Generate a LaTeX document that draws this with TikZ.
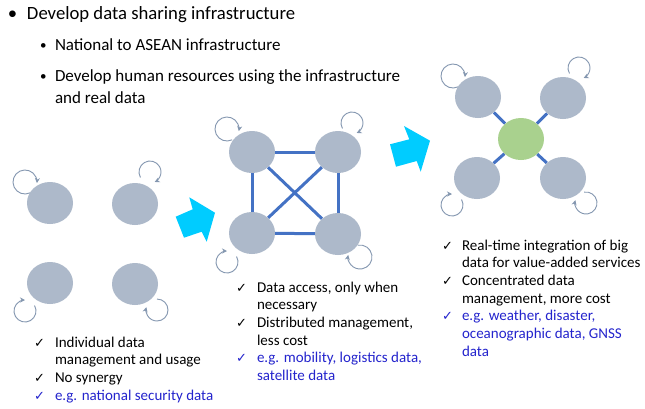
\documentclass[tikz,border=0pt]{standalone}
\usepackage{fontspec}
\setmainfont{Carlito}
\newfontfamily\symfont{DejaVu Sans}
\usetikzlibrary{shapes.geometric,arrows.meta,calc}
\definecolor{nodegray}{HTML}{ADB9CA}
\definecolor{loopc}{HTML}{8497B0}
\definecolor{edgeb}{HTML}{4472C4}
\definecolor{hubg}{HTML}{A9D18E}
\definecolor{cyanarr}{HTML}{00CCFF}
\definecolor{egblue}{RGB}{36,36,205}
\begin{document}
\begin{tikzpicture}[x=1pt,y=-1pt,
  site/.style={ellipse,fill=nodegray,minimum width=46pt,minimum height=42pt,inner sep=0pt},
  hub/.style={site,fill=hubg},
  link/.style={edgeb,line width=3pt},
  selfloop/.style={loopc,line width=0.9pt,-{Stealth[length=5pt,width=5pt]}},
  bigarrow/.style={fill=cyanarr,draw=none},
  txt/.style={anchor=base west,inner sep=0pt,outer sep=0pt},
  head/.style={txt,font=\fontsize{18.7}{22}\selectfont},
  sub/.style={txt,font=\fontsize{17}{22}\selectfont},
  subdot/.style={txt,font=\fontsize{13}{16}\selectfont},
  item/.style={txt,font=\fontsize{15}{18}\selectfont},
  tick/.style={txt,font=\symfont\fontsize{13}{15}\selectfont},
]
\useasboundingbox[fill=white] (0,0) rectangle (645,408);

% ---- heading text ----
\node[head] (b0) at (8,19) {•};
\node[head] (h0) at (27,19) {Develop data sharing infrastructure};
\node[subdot] (b1) at (40,49) {•};
\node[sub] (h1) at (55,50) {National to ASEAN infrastructure};
\node[subdot] (b2) at (40,80) {•};
\node[sub] (h2) at (55,81) {Develop human resources using the infrastructure};
\node[sub] (h3) at (55,103) {and real data};

% ---- left group ----
\node[site] (a1) at (50,203) {};
\node[site] (a2) at (135,204) {};
\node[site] (a3) at (50,283) {};
\node[site] (a4) at (135,284) {};
\draw[selfloop] ($(a1)+(-25,-21)+(65:12)$) arc[start angle=65,end angle=365,radius=12];
\draw[selfloop] ($(a2)+(15,-32)+(150:11)$) arc[start angle=150,end angle=425,radius=11];
\draw[selfloop] ($(a3)+(-25,28)+(-30:11)$) arc[start angle=-30,end angle=270,radius=11];
\draw[selfloop] ($(a4)+(22,26)+(-90:11)$) arc[start angle=-90,end angle=195,radius=11];

% ---- middle group ----
\node[site] (m1) at (252,152) {};
\node[site] (m2) at (338,152) {};
\node[site] (m3) at (252,233) {};
\node[site] (m4) at (338,234) {};
\draw[link] (m1) -- (m2);
\draw[link] (m1) -- (m3);
\draw[link] (m2) -- (m4);
\draw[link] (m3) -- (m4);
\draw[link] (m1) -- (m4);
\draw[link] (m2) -- (m3);
\draw[selfloop] ($(m1)+(-25,-23)+(65:12)$) arc[start angle=65,end angle=370,radius=12];
\draw[selfloop] ($(m2)+(14,-29)+(150:11)$) arc[start angle=150,end angle=425,radius=11];
\draw[selfloop] ($(m3)+(-25,29)+(-30:11)$) arc[start angle=-30,end angle=270,radius=11];
\draw[selfloop] ($(m4)+(22,23)+(-100:12)$) arc[start angle=-100,end angle=190,radius=12];

% ---- right group ----
\node[site] (r1) at (478,97) {};
\node[site] (r2) at (563,98) {};
\node[site] (r3) at (477,178) {};
\node[site] (r4) at (563,178) {};
\node[hub] (hc) at (521,139) {};
\draw[link] (hc) -- (r1);
\draw[link] (hc) -- (r2);
\draw[link] (hc) -- (r3);
\draw[link] (hc) -- (r4);
\draw[selfloop] ($(r1)+(-25,-21)+(65:12)$) arc[start angle=65,end angle=365,radius=12];
\draw[selfloop] ($(r2)+(16,-30)+(150:11)$) arc[start angle=150,end angle=425,radius=11];
\draw[selfloop] ($(r3)+(-25,27)+(-30:11)$) arc[start angle=-30,end angle=270,radius=11];
\draw[selfloop] ($(r4)+(23,25)+(-100:11)$) arc[start angle=-100,end angle=195,radius=11];

% ---- block arrows ----
\fill[bigarrow] (175.7,216.7) -- (192.7,209.3) -- (189.3,197.3) -- (215,212.7)
  -- (206.7,241.7) -- (201.7,231.7) -- (184,237.7) -- cycle;
\fill[bigarrow] (390,144.3) -- (409.3,139.3) -- (404,126) -- (430,140.7)
  -- (420.7,171.7) -- (416.7,161) -- (396,166.7) -- cycle;

% ---- left list ----
\node[tick] (lc1) at (34,347) {✓};
\node[item] (lt1) at (55,347) {Individual data};
\node[item] (lt2) at (55,364.7) {management and usage};
\node[tick] (lc2) at (34,382.4) {✓};
\node[item] (lt3) at (55,382.4) {No synergy};
\node[tick,egblue] (lc3) at (34,400) {✓};
\node[item,egblue] (lt4) at (55,400) {e.g. national security data};

% ---- middle list ----
\node[tick] (mc1) at (236,292) {✓};
\node[item] (mt1) at (257,292) {Data access, only when};
\node[item] (mt2) at (257,309.7) {necessary};
\node[tick] (mc2) at (236,327.4) {✓};
\node[item] (mt3) at (257,327.4) {Distributed management,};
\node[item] (mt4) at (257,345.1) {less cost};
\node[tick,egblue] (mc3) at (236,362.8) {✓};
\node[item,egblue] (mt5) at (257,362.8) {e.g. mobility, logistics data,};
\node[item,egblue] (mt6) at (257,380.5) {satellite data};

% ---- right list ----
\node[tick] (rc1) at (442,250) {✓};
\node[item] (rt1) at (462,250) {Real-time integration of big};
\node[item] (rt2) at (462,267.7) {data for value-added services};
\node[tick] (rc2) at (442,285.4) {✓};
\node[item] (rt3) at (462,285.4) {Concentrated data};
\node[item] (rt4) at (462,303.1) {management, more cost};
\node[tick,egblue] (rc3) at (442,320.8) {✓};
\node[item,egblue] (rt5) at (462,320.8) {e.g. weather, disaster,};
\node[item,egblue] (rt6) at (462,338.5) {oceanographic data, GNSS};
\node[item,egblue] (rt7) at (462,356.2) {data};
\end{tikzpicture}
\end{document}
